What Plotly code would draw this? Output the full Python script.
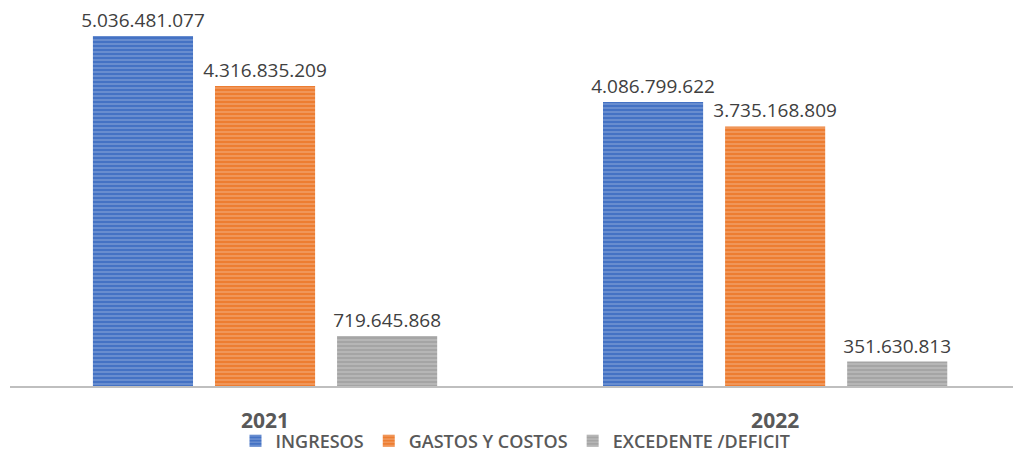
import plotly.graph_objects as go

# Data
years = ["2021", "2022"]
ingresos = [5036481077, 4086799622]
gastos = [4316835209, 3735168809]
excedente = [719645868, 351630813]

series_names = ["INGRESOS", "GASTOS Y COSTOS", "EXCEDENTE /DEFICIT"]
series_colors = ["#4472C4", "#ED7D31", "#A5A5A5"]


def fmt(v):
    return f"{v:,}".replace(",", ".")


fig = go.Figure()

for name, vals, color in zip(series_names, [ingresos, gastos, excedente], series_colors):
    fig.add_trace(go.Bar(
        x=years,
        y=vals,
        name=name,
        text=[fmt(v) for v in vals],
        textposition="outside",
        constraintext="none",
        textfont=dict(family="Open Sans", size=19, color="#404040"),
        cliponaxis=False,
        marker=dict(
            color=color,
            line=dict(width=0),
            pattern=dict(shape="-", fgcolor="rgba(255,255,255,0.55)",
                         size=4, solidity=0.35),
        ),
    ))

# page body has an 8px margin, so the figure is a bit smaller than the window
fig.update_layout(
    width=1013,
    height=443,
    margin=dict(l=2, r=0, t=2, b=65, autoexpand=False),
    plot_bgcolor="white",
    paper_bgcolor="white",
    barmode="group",
    bargap=0.282,
    bargroupgap=0.18,
    font=dict(family="Open Sans", color="#595959"),
    legend=dict(
        orientation="h",
        x=0.5, xanchor="center",
        y=-0.097, yanchor="top",
        bgcolor="rgba(0,0,0,0)",
        font=dict(family="Open Sans", size=18, color="#595959", weight=600),
        itemwidth=30,
        tracegroupgap=0,
    ),
)

fig.update_xaxes(
    range=[-0.5, 1.482],
    showline=True,
    linecolor="#BFBFBF",
    linewidth=2,
    ticks="",
    ticklabelstandoff=15,
    tickfont=dict(family="Open Sans", size=21, color="#595959", weight="bold"),
)

fig.update_yaxes(
    range=[0, 5.41e9],
    visible=False,
)

fig.write_html("out.html")
